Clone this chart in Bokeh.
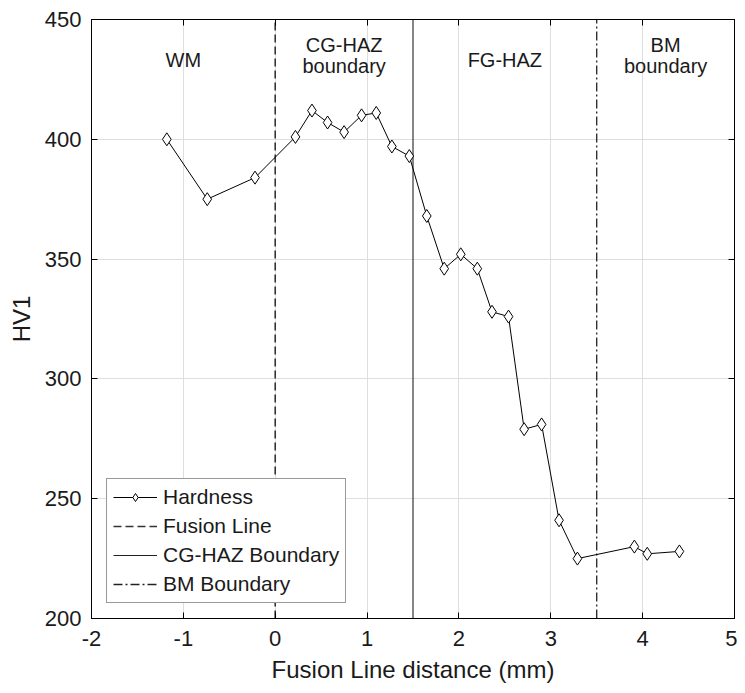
from bokeh.plotting import figure
from bokeh.models import (LinearAxis, Legend, LegendItem, FixedTicker,
                          CustomJSTickFormatter, Range1d)
from bokeh.core.properties import value
from bokeh.embed import file_html
from bokeh.resources import INLINE

# ---- data ----
distance_mm = [-1.18, -0.74, -0.22, 0.22, 0.40, 0.57, 0.75, 0.94, 1.10, 1.27,
               1.46, 1.65, 1.84, 2.02, 2.20, 2.36, 2.54, 2.71, 2.90, 3.09,
               3.29, 3.91, 4.05, 4.40]
hardness_hv1 = [400, 375, 384, 401, 412, 407, 403, 410, 411, 397,
                393, 368, 346, 352, 346, 328, 326, 279, 281, 241,
                225, 230, 227, 228]

fusion_line_x = 0.0
cgaz_boundary_x = 1.5
bm_boundary_x = 3.5

x_ticks = [-2, -1, 0, 1, 2, 3, 4, 5]
y_ticks = [200, 250, 300, 350, 400, 450]

region_single_x = [-1.0, 2.5]
region_single_y = [433.0]
region_single_text = ["WM", "FG-HAZ"]
region_double_x = [0.75, 4.25]
region_double_top = ["CG-HAZ", "BM"]
region_double_bottom = ["boundary", "boundary"]
region_top_y = 439.5
region_bottom_y = 430.5

FONT = "Liberation Sans"
TXT = "#1a1a1a"

p = figure(width=737, height=685, output_backend="svg", toolbar_location=None,
           x_range=Range1d(x_ticks[0], x_ticks[-1]),
           y_range=Range1d(y_ticks[0], y_ticks[-1]),
           min_border_left=91, min_border_right=3, min_border_top=19,
           min_border_bottom=64)
p.outline_line_color = "black"
p.outline_line_width = 1
p.background_fill_color = "white"
p.border_fill_color = "white"

# grid
p.xgrid.ticker = FixedTicker(ticks=x_ticks)
p.ygrid.ticker = FixedTicker(ticks=y_ticks)
for g in (p.xgrid, p.ygrid):
    g.grid_line_color = "#dedede"
    g.grid_line_width = 1

plain = CustomJSTickFormatter(code="return tick.toString();")

def style_axis(ax):
    ax.axis_line_color = "black"
    ax.major_tick_line_color = "black"
    ax.major_tick_in = 6
    ax.major_tick_out = 0
    ax.minor_tick_line_color = None
    ax.major_label_text_font = FONT
    ax.major_label_text_font_size = "22px"
    ax.major_label_text_color = TXT
    ax.axis_label_text_font = FONT
    ax.axis_label_text_font_size = "24px"
    ax.axis_label_text_font_style = "normal"
    ax.axis_label_text_color = TXT

p.xaxis.ticker = FixedTicker(ticks=x_ticks)
p.yaxis.ticker = FixedTicker(ticks=y_ticks)
p.xaxis.formatter = plain
p.yaxis.formatter = plain
style_axis(p.xaxis[0])
style_axis(p.yaxis[0])
p.xaxis.axis_label = "Fusion Line distance (mm)"
p.yaxis.axis_label = "HV1"
p.xaxis.major_label_standoff = 12
p.yaxis.major_label_standoff = 10
p.xaxis.axis_label_standoff = 7
p.yaxis.axis_label_standoff = 7

blank = CustomJSTickFormatter(code="return '';")
top_ax = LinearAxis(ticker=FixedTicker(ticks=x_ticks), formatter=blank)
right_ax = LinearAxis(ticker=FixedTicker(ticks=y_ticks), formatter=blank)
for ax in (top_ax, right_ax):
    style_axis(ax)
    ax.major_label_text_font_size = "0px"
    ax.major_label_standoff = 0
p.add_layout(top_ax, "above")
p.add_layout(right_ax, "right")

y_span = [y_ticks[0], y_ticks[-1]]

# boundary lines
r_fusion = p.line([fusion_line_x, fusion_line_x], y_span, line_color="#333333",
                  line_width=1.6, line_dash="8 4")
r_cg = p.line([cgaz_boundary_x, cgaz_boundary_x], y_span, line_color="#222222",
              line_width=1.1)
r_bm = p.line([bm_boundary_x, bm_boundary_x], y_span, line_color="#222222",
              line_width=1.3, line_dash="9 3 2 3")

# hardness
r_hl = p.line(distance_mm, hardness_hv1, line_color="black", line_width=1)
r_hm = p.scatter(distance_mm, hardness_hv1, marker="diamond", size=13,
                 fill_color="white", line_color="black", line_width=1)

# region labels
for xs, ys, texts in (
        (region_single_x, region_single_y * len(region_single_x), region_single_text),
        (region_double_x, [region_top_y] * len(region_double_x), region_double_top),
        (region_double_x, [region_bottom_y] * len(region_double_x), region_double_bottom)):
    p.text(x=xs, y=ys, text=texts, text_align="center", text_baseline="middle",
           text_font=value(FONT), text_font_size="20px", text_color=TXT)

legend = Legend(items=[
    LegendItem(label="Hardness", renderers=[r_hl, r_hm]),
    LegendItem(label="Fusion Line", renderers=[r_fusion]),
    LegendItem(label="CG-HAZ Boundary", renderers=[r_cg]),
    LegendItem(label="BM Boundary", renderers=[r_bm]),
], location=(15, 15))
legend.label_text_font = FONT
legend.label_text_font_size = "21px"
legend.label_text_color = TXT
legend.glyph_width = 44
legend.glyph_height = 20
legend.label_height = 20
legend.spacing = 5
legend.padding = 6
legend.margin = 0
legend.label_standoff = 6
legend.border_line_color = "#333333"
legend.border_line_width = 1
legend.background_fill_color = "white"
legend.background_fill_alpha = 1
p.add_layout(legend, "center")

open("out.html", "w").write(file_html(p, INLINE))
